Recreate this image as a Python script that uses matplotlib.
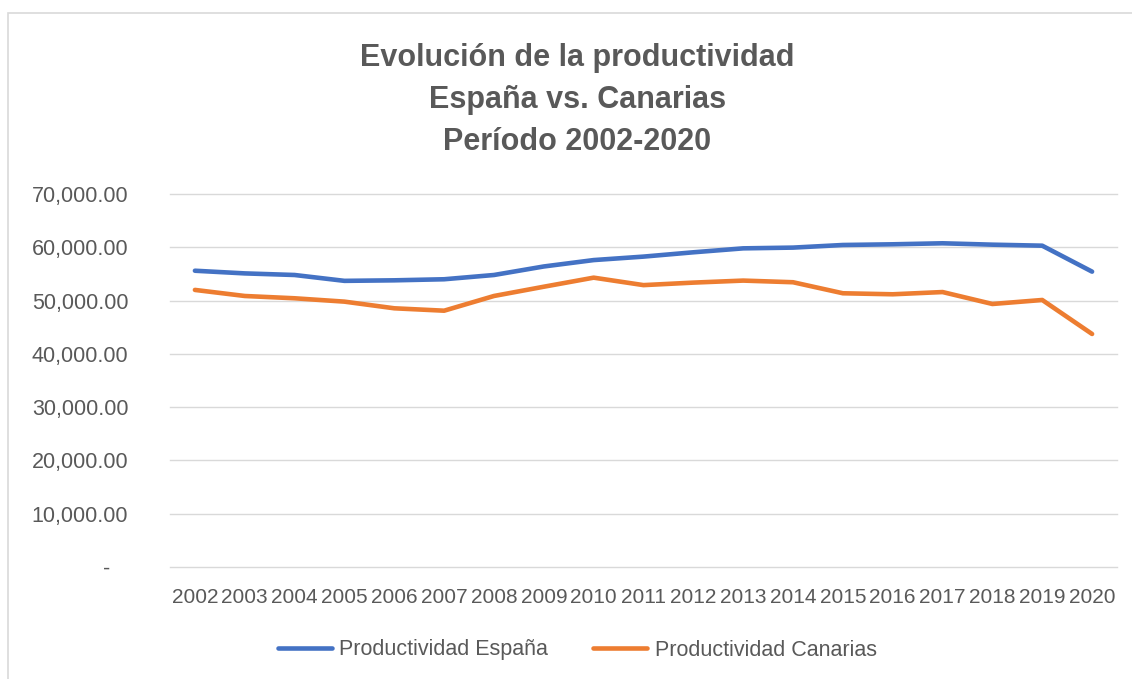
import matplotlib.pyplot as plt
from matplotlib.patches import Rectangle
from matplotlib.ticker import FuncFormatter

# datos
years = [2002, 2003, 2004, 2005, 2006, 2007, 2008, 2009, 2010, 2011,
         2012, 2013, 2014, 2015, 2016, 2017, 2018, 2019, 2020]
prod_espana = [55600, 55100, 54800, 53700, 53800, 54000, 54800, 56400, 57600, 58250,
               59060, 59800, 59940, 60430, 60560, 60750, 60490, 60300, 55430]
prod_canarias = [52000, 50860, 50430, 49800, 48550, 48100, 50860, 52600, 54300, 52900,
                 53370, 53750, 53440, 51370, 51180, 51600, 49360, 50110, 43730]
yticks = [0, 10000, 20000, 30000, 40000, 50000, 60000, 70000]

txt = '#595959'
plt.rcParams['font.family'] = ['Liberation Sans', 'DejaVu Sans']

W, H = 1132, 679
fig = plt.figure(figsize=(W / 100, H / 100), dpi=100)

# marco del grafico
fig.patches.append(Rectangle((8 / W, -0.05), 1.2, 1 - 13 / H + 0.05,
                             transform=fig.transFigure, fill=False,
                             edgecolor='#D9D9D9', linewidth=1.2))

ax = fig.add_axes([170 / W, 1 - 567 / H, (1117 - 170) / W, (567 - 194) / H])

x = list(range(len(years)))
ax.plot(x, prod_espana, color='#4472C4', linewidth=3.3, solid_capstyle='round',
        label='Productividad España', zorder=3)
ax.plot(x, prod_canarias, color='#ED7D31', linewidth=3.3, solid_capstyle='round',
        label='Productividad Canarias', zorder=3)

ax.set_xlim(-0.5, len(years) - 0.5)
ax.set_ylim(0, 70000)
ax.set_xticks(x)
ax.set_xticklabels([str(y) for y in years])
ax.set_yticks(yticks)
ax.yaxis.set_major_formatter(FuncFormatter(
    lambda v, p: '-   ' if v == 0 else f'{v:,.2f}'))

ax.grid(axis='y', color='#D9D9D9', linewidth=1)
for gl in ax.get_ygridlines():
    gl.set_clip_on(False)
ax.set_axisbelow(True)
for s in ax.spines.values():
    s.set_visible(False)
ax.tick_params(axis='both', length=0, labelcolor=txt)
ax.tick_params(axis='y', pad=30, labelsize=15.5)
ax.tick_params(axis='x', pad=15, labelsize=15)

fig.text(0.51, 1 - 100 / H,
         'Evolución de la productividad\nEspaña vs. Canarias\nPeríodo 2002-2020',
         ha='center', va='center', fontsize=22, fontweight='bold',
         color=txt, linespacing=1.52)

leg = fig.legend(loc='center', bbox_to_anchor=(0.51, 1 - 650 / H), ncol=2,
                 frameon=False, fontsize=15.5, handlelength=2.5,
                 handletextpad=0.35, columnspacing=2.1)
for t in leg.get_texts():
    t.set_color(txt)

fig.savefig('out.png', dpi=100)
